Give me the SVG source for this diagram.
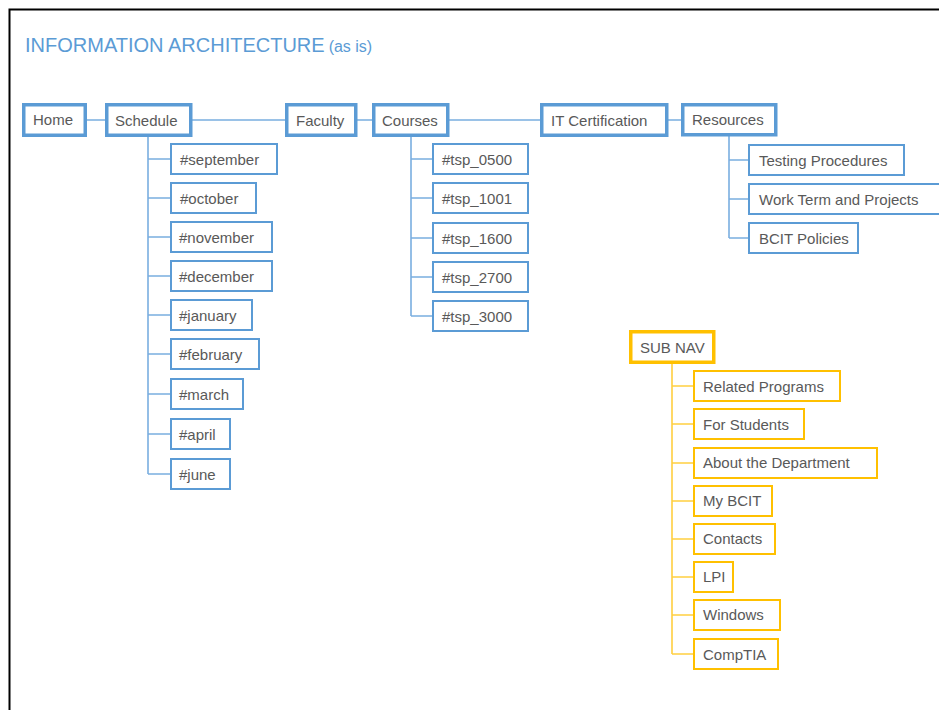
<svg xmlns="http://www.w3.org/2000/svg" width="939" height="710" viewBox="0 0 939 710">
<style>
.t{font-family:"Liberation Sans",Arial,sans-serif;font-size:15px;fill:#595959}
.top{fill:#fff;stroke:#5b9bd5;stroke-width:3.5}
.ch{fill:#fff;stroke:#5b9bd5;stroke-width:2}
.sn{fill:#fff;stroke:#ffc000;stroke-width:3.5}
.snc{fill:#fff;stroke:#ffc000;stroke-width:2}
.cb{stroke:#7aaee0;stroke-width:1.6;fill:none}
.cy{stroke:#ffcf40;stroke-width:1.6;fill:none}
</style>
<rect x="0" y="0" width="939" height="710" fill="#fff"/>
<path d="M9.5,710 V9.5 H939" fill="none" stroke="#000" stroke-width="2"/>
<text x="25" y="52" font-family="'Liberation Sans',Arial,sans-serif" font-size="20" fill="#5b9bd5">INFORMATION ARCHITECTURE<tspan font-size="16" dx="4">(as is)</tspan></text>
<g id="connectors">
<path class="cb" d="M87,120 H105 M192,120 H285 M357,120 H372 M449,120 H540 M668,120 H681"/>
<path class="cb" d="M148,137 V474 M148,159 H170 M148,198 H170 M148,237 H170 M148,276 H170 M148,315 H170 M148,354 H170 M148,394 H170 M148,434 H170 M148,474 H170"/>
<path class="cb" d="M411,137 V316 M411,159 H432 M411,198 H432 M411,238 H432 M411,277 H432 M411,316 H432"/>
<path class="cb" d="M729,136 V238 M729,160 H748 M729,199 H748 M729,238 H748"/>
<path class="cy" d="M672,363 V654 M672,386 H693 M672,424 H693 M672,463 H693 M672,501 H693 M672,539 H693 M672,577 H693 M672,615 H693 M672,654 H693"/>
</g>
<g id="home"><rect class="top" x="23.75" y="104.75" width="61.5" height="30.5"/><text class="t" x="33" y="125">Home</text></g>
<g id="schedule"><rect class="top" x="106.75" y="104.75" width="84" height="30.5"/><text class="t" x="115" y="126">Schedule</text></g>
<g id="faculty"><rect class="top" x="286.75" y="104.75" width="69" height="30.5"/><text class="t" x="296" y="126">Faculty</text></g>
<g id="courses"><rect class="top" x="373.75" y="104.75" width="74" height="30.5"/><text class="t" x="382" y="126">Courses</text></g>
<g id="itcert"><rect class="top" x="541.75" y="104.75" width="125" height="30.5"/><text class="t" x="551" y="126">IT Certification</text></g>
<g id="resources"><rect class="top" x="682.75" y="104.75" width="93" height="30"/><text class="t" x="692" y="125">Resources</text></g>

<g id="september"><rect class="ch" x="171" y="144" width="106" height="30"/><text class="t" x="180" y="165">#september</text></g>
<g id="october"><rect class="ch" x="171" y="183" width="85" height="30"/><text class="t" x="180" y="204">#october</text></g>
<g id="november"><rect class="ch" x="171" y="222" width="101" height="30"/><text class="t" x="179" y="243">#november</text></g>
<g id="december"><rect class="ch" x="171" y="261" width="101" height="30"/><text class="t" x="179" y="282">#december</text></g>
<g id="january"><rect class="ch" x="171" y="300" width="81" height="30"/><text class="t" x="179" y="321">#january</text></g>
<g id="february"><rect class="ch" x="171" y="339" width="88" height="30"/><text class="t" x="179" y="360">#february</text></g>
<g id="march"><rect class="ch" x="171" y="379" width="72" height="30"/><text class="t" x="179" y="400">#march</text></g>
<g id="april"><rect class="ch" x="171" y="419" width="59" height="30"/><text class="t" x="179" y="440">#april</text></g>
<g id="june"><rect class="ch" x="171" y="459" width="59" height="30"/><text class="t" x="179" y="480">#june</text></g>

<g id="tsp0500"><rect class="ch" x="433" y="144" width="95" height="30"/><text class="t" x="442" y="165">#tsp_0500</text></g>
<g id="tsp1001"><rect class="ch" x="433" y="183" width="95" height="30"/><text class="t" x="442" y="204">#tsp_1001</text></g>
<g id="tsp1600"><rect class="ch" x="433" y="223" width="95" height="30"/><text class="t" x="442" y="244">#tsp_1600</text></g>
<g id="tsp2700"><rect class="ch" x="433" y="262" width="95" height="30"/><text class="t" x="442" y="283">#tsp_2700</text></g>
<g id="tsp3000"><rect class="ch" x="433" y="301" width="95" height="30"/><text class="t" x="442" y="322">#tsp_3000</text></g>

<g id="testing"><rect class="ch" x="749" y="145" width="155" height="30"/><text class="t" x="759" y="166">Testing Procedures</text></g>
<g id="workterm"><rect class="ch" x="749" y="184" width="200" height="30"/><text class="t" x="759" y="205">Work Term and Projects</text></g>
<g id="policies"><rect class="ch" x="749" y="223" width="109" height="30"/><text class="t" x="759" y="244">BCIT Policies</text></g>

<g id="subnav"><rect class="sn" x="630.75" y="331.75" width="83" height="30.5"/><text class="t" x="640" y="353">SUB NAV</text></g>
<g id="related"><rect class="snc" x="694" y="371" width="146" height="30"/><text class="t" x="703" y="392">Related Programs</text></g>
<g id="students"><rect class="snc" x="694" y="409" width="110" height="30"/><text class="t" x="703" y="430">For Students</text></g>
<g id="department"><rect class="snc" x="694" y="448" width="183" height="30"/><text class="t" x="703" y="468">About the Department</text></g>
<g id="mybcit"><rect class="snc" x="694" y="486" width="78" height="30"/><text class="t" x="703" y="506">My BCIT</text></g>
<g id="contacts"><rect class="snc" x="694" y="524" width="81" height="30"/><text class="t" x="703" y="544">Contacts</text></g>
<g id="lpi"><rect class="snc" x="694" y="562" width="39" height="30"/><text class="t" x="703" y="582">LPI</text></g>
<g id="windows"><rect class="snc" x="694" y="600" width="86" height="30"/><text class="t" x="703" y="620">Windows</text></g>
<g id="comptia"><rect class="snc" x="694" y="639" width="84" height="30"/><text class="t" x="703" y="660">CompTIA</text></g>
</svg>
